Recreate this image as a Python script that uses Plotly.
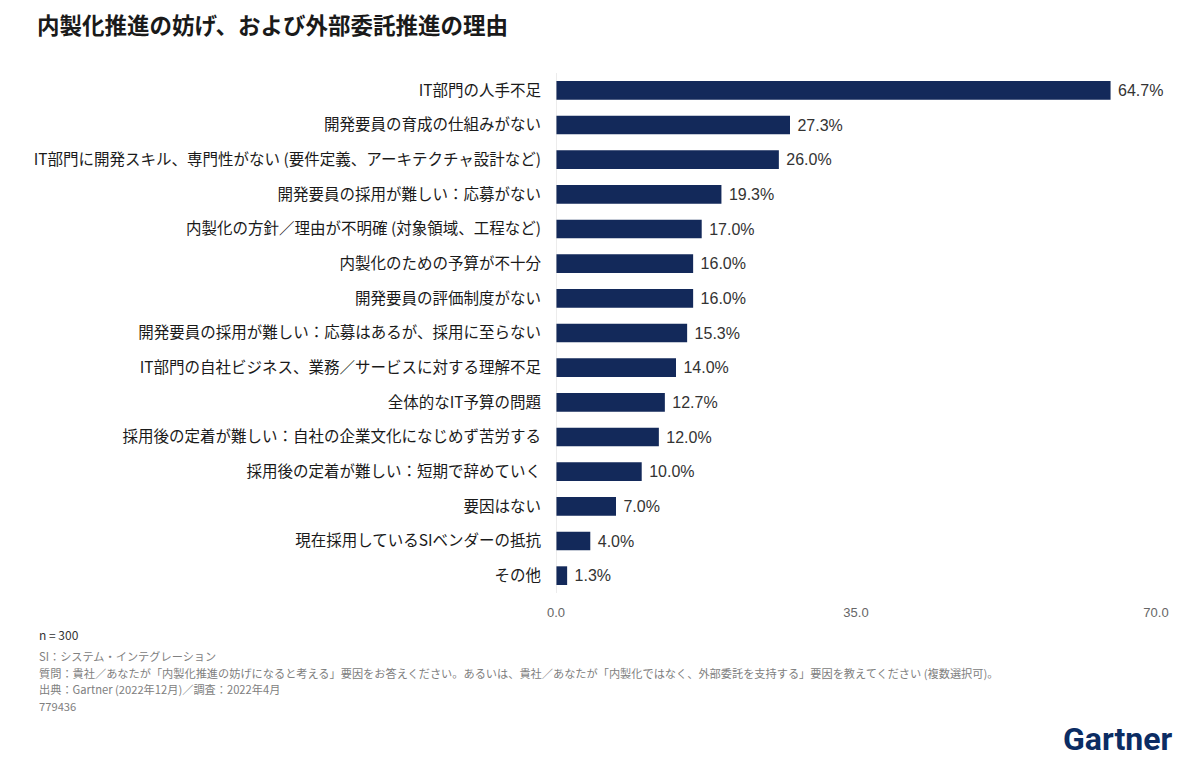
import plotly.graph_objects as go

# Data
reasons = [
    "IT部門の人手不足",
    "開発要員の育成の仕組みがない",
    "IT部門に開発スキル、専門性がない (要件定義、アーキテクチャ設計など)",
    "開発要員の採用が難しい：応募がない",
    "内製化の方針／理由が不明確 (対象領域、工程など)",
    "内製化のための予算が不十分",
    "開発要員の評価制度がない",
    "開発要員の採用が難しい：応募はあるが、採用に至らない",
    "IT部門の自社ビジネス、業務／サービスに対する理解不足",
    "全体的なIT予算の問題",
    "採用後の定着が難しい：自社の企業文化になじめず苦労する",
    "採用後の定着が難しい：短期で辞めていく",
    "要因はない",
    "現在採用しているSIベンダーの抵抗",
    "その他",
]
percent = [64.7, 27.3, 26.0, 19.3, 17.0, 16.0, 16.0, 15.3, 14.0, 12.7, 12.0, 10.0, 7.0, 4.0, 1.3]
tick_vals = [0, 35, 70]
tick_text = ["0.0", "35.0", "70.0"]

notes = [
    "SI：システム・インテグレーション",
    "質問：貴社／あなたが「内製化推進の妨げになると考える」要因をお答えください。あるいは、貴社／あなたが「内製化ではなく、外部委託を支持する」要因を教えてください (複数選択可)。",
    "出典：Gartner (2022年12月)／調査：2022年4月",
    "779436",
]

FONT = "Noto Sans CJK JP"
NAVY = "#13295a"

# page has an 8px body margin, so work in figure px = screen px - 8
OFF = 8
W, H = 1184, 758
L, T, PW, PH = 556 - OFF, 73 - OFF, 600, 520


def px(x, y):
    return (x - OFF - L) / PW, 1 - (y - OFF - T) / PH


fig = go.Figure()
fig.add_trace(go.Bar(
    x=percent,
    y=reasons,
    orientation="h",
    width=0.54,
    marker=dict(color=NAVY, line=dict(width=0)),
    text=[f" {v:.1f}%" for v in percent],
    textposition="outside",
    cliponaxis=False,
    textfont=dict(family="Liberation Sans, Arial", size=16, color="#333333"),
))

fig.update_layout(
    width=W, height=H,
    paper_bgcolor="white", plot_bgcolor="white",
    margin=dict(l=L, r=W - L - PW, t=T, b=H - T - PH),
    showlegend=False,
    font=dict(family=FONT),
    xaxis=dict(
        range=[0, 70], tickvals=tick_vals, ticktext=tick_text,
        showgrid=False, zeroline=False, showline=False,
        tickfont=dict(family="Liberation Sans, Arial", size=13, color="#666666"),
        ticks="", ticklabelstandoff=10,
    ),
    yaxis=dict(
        autorange="reversed", showgrid=False, zeroline=False,
        tickfont=dict(size=15.5, color="#1a1a1a"), ticks="",
        ticklabelstandoff=14,
    ),
    shapes=[dict(type="line", xref="x", yref="paper", x0=0, x1=0, y0=0, y1=1,
                 line=dict(color="#d9d9d9", width=1))],
)

tx, ty = px(35, 24)
fig.add_annotation(text="<b>内製化推進の妨げ、および外部委託推進の理由</b>",
                   xref="paper", yref="paper", x=tx, y=ty,
                   xanchor="left", yanchor="middle", showarrow=False,
                   font=dict(family=FONT, size=22.5, color="#1a1a1a"))

nx, ny = px(37, 634)
fig.add_annotation(text="n = 300", xref="paper", yref="paper", x=nx, y=ny,
                   xanchor="left", yanchor="middle", showarrow=False,
                   font=dict(family=FONT, size=12, color="#333333"))

for i, txt in enumerate(notes):
    nx, ny = px(37, 656 + 16.5 * i)
    fig.add_annotation(text=txt, xref="paper", yref="paper", x=nx, y=ny,
                       xanchor="left", yanchor="middle", showarrow=False,
                       font=dict(family=FONT, size=11.2, color="#808080"))

gx, gy = px(1174, 739)
fig.add_annotation(text="<b>Gartner</b>", xref="paper", yref="paper", x=gx, y=gy,
                   xanchor="right", yanchor="middle", showarrow=False,
                   font=dict(family="Roboto", size=32, color="#0b2c63"))

fig.write_html("out.html")
